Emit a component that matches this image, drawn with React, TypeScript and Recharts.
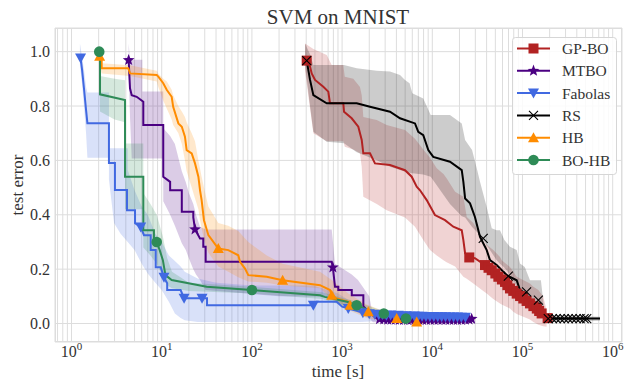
import React from 'react';
import { ComposedChart, Line, Area, XAxis, YAxis, CartesianGrid } from 'recharts';

// GP-BO
const gpboTime = [405, 441, 460, 501, 619, 703, 734, 1031, 1050, 1277, 1512, 1650, 1718, 2038, 2315, 3397, 4980, 5910, 6714, 7310, 8670, 10700, 13830, 17100, 21200, 22100, 23100, 25700, 29700, 38400, 45600, 54000, 64000, 72600, 86200, 102000, 121000, 144000, 163000, 177000, 211000];
const gpboMean = [0.967, 0.945, 0.92, 0.896, 0.871, 0.853, 0.81, 0.81, 0.779, 0.755, 0.724, 0.675, 0.626, 0.626, 0.589, 0.583, 0.564, 0.54, 0.503, 0.49, 0.454, 0.399, 0.38, 0.356, 0.343, 0.307, 0.258, 0.243, 0.24, 0.215, 0.196, 0.172, 0.153, 0.129, 0.11, 0.092, 0.074, 0.055, 0.037, 0.024, 0.02];
const gpboBandTime = [388, 480, 675, 767, 1031, 1070, 1330, 1578, 1650, 1718, 2420, 3120, 4980, 6430, 7940, 9430, 11200, 13300, 14400, 17900, 22100, 24100, 28500, 36700, 40100, 47400, 56300, 58800, 72600, 79100, 86200, 121000, 132000, 150000, 170000, 185000];
const gpboLow = [0.93, 0.7, 0.67, 0.67, 0.67, 0.65, 0.64, 0.626, 0.577, 0.466, 0.44, 0.417, 0.39, 0.356, 0.307, 0.27, 0.25, 0.233, 0.225, 0.21, 0.172, 0.165, 0.147, 0.12, 0.11, 0.09, 0.074, 0.07, 0.055, 0.043, 0.035, 0.015, 0.006, -0.005, -0.01, -0.012];
const gpboHigh = [1.03, 1.01, 0.988, 0.951, 0.951, 0.908, 0.9, 0.87, 0.84, 0.76, 0.749, 0.73, 0.712, 0.68, 0.64, 0.61, 0.571, 0.55, 0.534, 0.485, 0.466, 0.392, 0.37, 0.307, 0.29, 0.27, 0.245, 0.233, 0.208, 0.19, 0.172, 0.147, 0.135, 0.123, 0.098, 0.05];
const gpboMarkT = [405, 25700, 38400, 42000, 45600, 50000, 54000, 59000, 64000, 68000, 72600, 79000, 86200, 94000, 102000, 111000, 121000, 132000, 144000, 153000, 163000, 190000];
const gpboMarkY = [0.967, 0.243, 0.215, 0.205, 0.196, 0.184, 0.172, 0.162, 0.153, 0.141, 0.129, 0.12, 0.11, 0.101, 0.092, 0.083, 0.074, 0.064, 0.055, 0.046, 0.037, 0.02];

// MTBO
const mtboTime = [4.3, 4.45, 4.65, 5.28, 6.25, 6.25, 10.4, 10.4, 12.4, 12.4, 16.7, 16.7, 22.4, 22.4, 23.4, 26.6, 28.9, 28.9, 30.7, 30.7, 767, 790, 834, 907, 907, 1280, 1280, 1720, 1720, 2000, 2300, 3000, 27000];
const mtboMean = [0.969, 0.865, 0.84, 0.834, 0.816, 0.73, 0.73, 0.54, 0.521, 0.49, 0.49, 0.411, 0.411, 0.39, 0.346, 0.313, 0.313, 0.282, 0.282, 0.227, 0.227, 0.206, 0.135, 0.135, 0.123, 0.123, 0.104, 0.104, 0.064, 0.04, 0.025, 0.014, 0.014];
const mtboBandTime = [4.3, 4.45, 4.65, 6.1, 6.1, 10.4, 10.4, 12.4, 14, 16.7, 18.5, 20, 22.4, 24, 26.6, 30.7, 200, 767, 834, 1280, 1500, 2000, 2200, 27000];
const mtboLow = [0.92, 0.76, 0.607, 0.607, 0.607, 0.607, 0.45, 0.4, 0.36, 0.295, 0.27, 0.24, 0.2, 0.18, 0.16, 0.123, 0.1, 0.098, 0.08, 0.06, 0.04, 0.02, 0.005, 0.008];
const mtboHigh = [1.03, 0.97, 0.97, 0.97, 0.853, 0.853, 0.718, 0.69, 0.66, 0.56, 0.52, 0.48, 0.44, 0.4, 0.356, 0.346, 0.346, 0.346, 0.22, 0.18, 0.16, 0.1, 0.03, 0.02];
const mtboMarkT = [4.3, 23.4, 790, 2600, 2900, 3200, 3500, 3900, 4300, 4800, 5300, 5800, 6400, 7100, 7800, 8600, 9500, 10500, 11600, 12800, 14100, 15600, 17200, 19000, 21000, 23200, 25500, 27300];
const mtboMarkY = [0.969, 0.346, 0.206, 0.016, 0.015, 0.014, 0.014, 0.014, 0.013, 0.013, 0.013, 0.013, 0.013, 0.013, 0.013, 0.013, 0.013, 0.013, 0.013, 0.013, 0.013, 0.013, 0.013, 0.013, 0.013, 0.014, 0.015, 0.017];

// Fabolas
const fabolasTime = [1.26, 1.31, 1.38, 1.45, 1.5, 2.6, 2.6, 3.03, 3.03, 4.12, 4.12, 5.06, 5.06, 5.85, 6.36, 7.55, 7.55, 8.58, 8.58, 9.75, 10.6, 11.5, 11.5, 16.2, 17.7, 31.8, 31.8, 480, 520, 870, 1000, 1170, 1700, 2000, 2300, 5000, 12000, 26000];
const fabolasMean = [0.977, 0.933, 0.859, 0.785, 0.737, 0.737, 0.59, 0.59, 0.491, 0.491, 0.417, 0.417, 0.369, 0.355, 0.325, 0.325, 0.27, 0.27, 0.207, 0.207, 0.17, 0.148, 0.123, 0.123, 0.093, 0.093, 0.067, 0.067, 0.08, 0.08, 0.062, 0.055, 0.04, 0.036, 0.034, 0.029, 0.025, 0.023];
const fabolasBandTime = [1.24, 1.31, 1.38, 1.45, 1.5, 2.6, 2.6, 2.96, 3.5, 4.2, 4.2, 5.0, 6.0, 7.0, 8.5, 10, 12, 14, 16.2, 18, 25, 40, 100, 480, 900, 1600, 3000, 26000];
const fabolasLow = [0.95, 0.88, 0.79, 0.7, 0.61, 0.61, 0.53, 0.37, 0.33, 0.3, 0.3, 0.27, 0.22, 0.184, 0.15, 0.123, 0.08, 0.037, 0.02, 0.012, 0.006, 0.006, 0.006, 0.006, 0.006, 0.006, 0.01, 0.015];
const fabolasHigh = [1.03, 0.98, 0.93, 0.87, 0.85, 0.85, 0.645, 0.645, 0.645, 0.645, 0.565, 0.49, 0.43, 0.4, 0.33, 0.3, 0.25, 0.23, 0.21, 0.19, 0.166, 0.15, 0.14, 0.14, 0.11, 0.06, 0.04, 0.03];
const fabolasMarkT = [1.26, 5.85, 10.6, 17.7, 28, 480, 1170, 1700, 2000, 2300, 2550, 2800, 3100, 3450, 3800, 4200, 4650, 5150, 5700, 6300, 7000, 7700, 8500, 9400, 10400, 11500, 12700, 14000, 15500, 17200, 19000, 21000, 23300];
const fabolasMarkY = [0.977, 0.355, 0.17, 0.093, 0.093, 0.067, 0.055, 0.04, 0.036, 0.034, 0.032, 0.033, 0.03, 0.031, 0.029, 0.03, 0.028, 0.029, 0.027, 0.028, 0.027, 0.027, 0.026, 0.026, 0.026, 0.025, 0.025, 0.025, 0.024, 0.024, 0.024, 0.023, 0.023];

// RS
const rsTime = [405, 441, 480, 675, 1452, 2038, 3397, 4385, 6430, 6990, 7940, 9030, 10250, 15700, 21200, 22100, 23100, 26200, 29700, 33800, 36700, 40100, 43600, 51700, 66800, 86200, 93800, 111000, 121000, 156000, 170000, 185000, 723000];
const rsMean = [0.967, 0.896, 0.84, 0.81, 0.81, 0.797, 0.779, 0.755, 0.736, 0.705, 0.693, 0.638, 0.613, 0.595, 0.564, 0.521, 0.46, 0.442, 0.392, 0.319, 0.295, 0.27, 0.233, 0.215, 0.178, 0.159, 0.123, 0.11, 0.074, 0.074, 0.024, 0.018, 0.018];
const rsBandTime = [388, 441, 480, 675, 1050, 1452, 2420, 3397, 4385, 4980, 5600, 6000, 7940, 9600, 15700, 21200, 23100, 27600, 31700, 33800, 40100, 45600, 51700, 56300, 63000, 72600, 86200, 93800, 106000, 121000, 160000, 177000, 723000];
const rsLow = [0.95, 0.8, 0.705, 0.669, 0.663, 0.63, 0.601, 0.577, 0.565, 0.558, 0.555, 0.553, 0.548, 0.54, 0.44, 0.395, 0.39, 0.355, 0.335, 0.325, 0.288, 0.26, 0.233, 0.22, 0.205, 0.18, 0.135, 0.125, 0.11, 0.098, 0.061, 0.005, 0.01];
const rsHigh = [1.03, 0.99, 0.951, 0.951, 0.951, 0.939, 0.93, 0.927, 0.914, 0.896, 0.884, 0.847, 0.828, 0.767, 0.767, 0.736, 0.675, 0.638, 0.56, 0.521, 0.429, 0.35, 0.343, 0.343, 0.307, 0.282, 0.27, 0.221, 0.208, 0.159, 0.159, 0.03, 0.025];
const rsMarkT = [405, 36700, 69600, 111000, 150000, 193000, 214000, 236000, 262000, 290000, 321000, 355000, 393000, 435000, 482000, 515000];
const rsMarkY = [0.967, 0.313, 0.174, 0.116, 0.086, 0.018, 0.018, 0.018, 0.018, 0.018, 0.018, 0.018, 0.018, 0.018, 0.018, 0.018];

// HB
const hbTime = [2.05, 2.16, 2.16, 4.26, 4.45, 8.8, 9.17, 10.4, 11.4, 12.9, 13.4, 15.3, 16.7, 18.1, 18.9, 21.5, 23.4, 25.5, 26.6, 27.7, 29.4, 32.9, 42.4, 54.7, 70.6, 73.8, 83.8, 91.2, 146, 219, 569, 734, 767, 871, 1172, 1225, 1874, 4030, 6710, 7890];
const hbMean = [0.983, 0.977, 0.939, 0.939, 0.92, 0.914, 0.908, 0.884, 0.859, 0.834, 0.797, 0.736, 0.724, 0.687, 0.638, 0.626, 0.589, 0.54, 0.49, 0.454, 0.38, 0.325, 0.276, 0.27, 0.251, 0.227, 0.202, 0.178, 0.172, 0.159, 0.141, 0.123, 0.104, 0.092, 0.08, 0.067, 0.043, 0.018, 0.006, 0.005];
const hbBandTime = [2.05, 2.16, 4.45, 8.8, 9.17, 10.4, 11.4, 12.9, 13.4, 15.3, 16.7, 18.1, 18.9, 21.5, 23.4, 25.5, 26.6, 27.7, 29.4, 32.9, 42.4, 54.7, 70.6, 91.2, 146, 219, 569, 767, 1172, 1874, 3860, 7890];
const hbLow = [0.95, 0.92, 0.91, 0.89, 0.87, 0.82, 0.79, 0.75, 0.73, 0.7, 0.66, 0.6, 0.56, 0.5, 0.46, 0.42, 0.38, 0.35, 0.31, 0.26, 0.21, 0.19, 0.17, 0.155, 0.15, 0.14, 0.13, 0.09, 0.05, 0.02, 0.005, 0.0];
const hbHigh = [1.0, 0.957, 0.95, 0.93, 0.92, 0.9, 0.89, 0.86, 0.84, 0.8, 0.78, 0.76, 0.74, 0.7, 0.67, 0.6, 0.57, 0.54, 0.5, 0.43, 0.37, 0.36, 0.34, 0.3, 0.25, 0.22, 0.19, 0.16, 0.11, 0.07, 0.03, 0.015];
const hbMarkT = [2.05, 42.4, 219, 767, 1225, 1950, 4030, 6710];
const hbMarkY = [0.983, 0.276, 0.159, 0.104, 0.067, 0.043, 0.018, 0.006];

// BO-HB
const bohbTime = [2.03, 2.07, 2.07, 3.92, 3.92, 6.25, 6.25, 8.2, 8.2, 8.8, 9.5, 10.3, 11, 12.9, 31.5, 100, 569, 640, 1130, 1450, 2200, 2900, 5100, 7300];
const bohbMean = [1.0, 1.0, 0.843, 0.822, 0.54, 0.54, 0.343, 0.343, 0.31, 0.3, 0.27, 0.233, 0.178, 0.16, 0.135, 0.123, 0.104, 0.098, 0.08, 0.067, 0.043, 0.037, 0.018, 0.012];
const bohbBandTime = [2.03, 2.07, 3.0, 3.92, 3.92, 6.25, 6.25, 7.5, 8.8, 10.3, 11.5, 13, 20, 100, 600, 1450, 2900, 7300];
const bohbLow = [0.99, 0.78, 0.75, 0.74, 0.42, 0.42, 0.28, 0.25, 0.22, 0.17, 0.14, 0.13, 0.12, 0.11, 0.09, 0.05, 0.025, 0.008];
const bohbHigh = [1.01, 0.91, 0.9, 0.895, 0.662, 0.662, 0.48, 0.44, 0.4, 0.32, 0.24, 0.19, 0.15, 0.135, 0.115, 0.08, 0.045, 0.018];
const bohbMarkT = [2.03, 8.8, 100, 1450, 2900, 5100];
const bohbMarkY = [1.0, 0.3, 0.123, 0.067, 0.037, 0.018];

// axes
const decades = [1, 10, 100, 1000, 10000, 100000];
const minorSteps = [1, 2, 3, 4, 5, 6, 7, 8, 9];
const xGridTicks = [0.7, 0.8, 0.9, ...decades.flatMap((d) => minorSteps.map((m) => m * d)), 1000000];
const majorExponents: Record<number, number> = { 1: 0, 10: 1, 100: 2, 1000: 3, 10000: 4, 100000: 5, 1000000: 6 };
const yTicks = [0, 0.2, 0.4, 0.6, 0.8, 1.0];
const xDomain = [0.656, 1268000];
const yDomain = [-0.068, 1.087];

const FONT = "'Liberation Serif', 'Times New Roman', serif";
const TEXT = '#333333';

const zip = (t: number[], y: number[]) => t.map((x, i) => ({ t: x, y: y[i] }));
const zipBand = (t: number[], lo: number[], hi: number[]) => t.map((x, i) => ({ t: x, band: [lo[i], hi[i]] }));

const series = [
  { name: 'GP-BO', color: '#b22222', marker: 'square', line: zip(gpboTime, gpboMean), band: zipBand(gpboBandTime, gpboLow, gpboHigh), marks: zip(gpboMarkT, gpboMarkY) },
  { name: 'MTBO', color: '#4b0082', marker: 'star', line: zip(mtboTime, mtboMean), band: zipBand(mtboBandTime, mtboLow, mtboHigh), marks: zip(mtboMarkT, mtboMarkY) },
  { name: 'Fabolas', color: '#4169e1', marker: 'triDown', line: zip(fabolasTime, fabolasMean), band: zipBand(fabolasBandTime, fabolasLow, fabolasHigh), marks: zip(fabolasMarkT, fabolasMarkY) },
  { name: 'RS', color: '#000000', marker: 'x', line: zip(rsTime, rsMean), band: zipBand(rsBandTime, rsLow, rsHigh), marks: zip(rsMarkT, rsMarkY) },
  { name: 'HB', color: '#ff8c00', marker: 'triUp', line: zip(hbTime, hbMean), band: zipBand(hbBandTime, hbLow, hbHigh), marks: zip(hbMarkT, hbMarkY) },
  { name: 'BO-HB', color: '#2e8b57', marker: 'circle', line: zip(bohbTime, bohbMean), band: zipBand(bohbBandTime, bohbLow, bohbHigh), marks: zip(bohbMarkT, bohbMarkY) },
];

const starPoints = (cx: number, cy: number, ro: number, ri: number) => {
  const pts: string[] = [];
  for (let i = 0; i < 10; i++) {
    const r = i % 2 === 0 ? ro : ri;
    const a = -Math.PI / 2 + (i * Math.PI) / 5;
    pts.push(`${cx + r * Math.cos(a)},${cy + r * Math.sin(a)}`);
  }
  return pts.join(' ');
};

const MarkerShape = ({ kind, color, cx, cy }: { kind: string; color: string; cx: number; cy: number }) => {
  if (cx == null || cy == null || isNaN(cx) || isNaN(cy)) return <g />;
  switch (kind) {
    case 'square':
      return <rect x={cx - 5} y={cy - 5} width={10} height={10} fill={color} />;
    case 'star':
      return <polygon points={starPoints(cx, cy, 6.2, 2.6)} fill={color} />;
    case 'triDown':
      return <polygon points={`${cx - 5.5},${cy - 4.5} ${cx + 5.5},${cy - 4.5} ${cx},${cy + 5.5}`} fill={color} />;
    case 'triUp':
      return <polygon points={`${cx - 5.5},${cy + 4.5} ${cx + 5.5},${cy + 4.5} ${cx},${cy - 5.5}`} fill={color} />;
    case 'x':
      return (
        <path
          d={`M${cx - 4.5},${cy - 4.5}L${cx + 4.5},${cy + 4.5}M${cx - 4.5},${cy + 4.5}L${cx + 4.5},${cy - 4.5}`}
          stroke={color}
          strokeWidth={1.1}
          fill="none"
        />
      );
    default:
      return <circle cx={cx} cy={cy} r={5.3} fill={color} />;
  }
};

const LogTick = (props: any) => {
  const { x, y, payload } = props;
  const exp = majorExponents[payload.value];
  if (exp === undefined) return <g />;
  return (
    <text x={x} y={y + 15} textAnchor="middle" fontFamily={FONT} fontSize={16} fill={TEXT}>
      10
      <tspan dy={-7} fontSize={11}>
        {exp}
      </tspan>
    </text>
  );
};

const Legend = () => (
  <g>
    <rect x={512.5} y={37.5} width={104} height={137} rx={3} fill="#ffffff" fillOpacity={0.85} stroke="#d6d6d6" />
    {series.map((s, i) => {
      const cy = 48.5 + i * 22.3;
      return (
        <g key={s.name}>
          <line x1={517} x2={550} y1={cy} y2={cy} stroke={s.color} strokeWidth={2} />
          <MarkerShape kind={s.marker} color={s.color} cx={533.5} cy={cy} />
          <text x={562} y={cy + 5.5} fontFamily={FONT} fontSize={15.5} fill={TEXT}>
            {s.name}
          </text>
        </g>
      );
    })}
  </g>
);

export default function App() {
  return (
    <div style={{ position: 'absolute', left: 0, top: 0, width: 626, height: 384, background: '#fff' }}>
      <ComposedChart width={626} height={384} margin={{ top: 28, right: 4, bottom: 0, left: 0 }}>
        <CartesianGrid stroke="#dddddd" />
        <XAxis
          dataKey="t"
          type="number"
          scale="log"
          domain={xDomain}
          allowDataOverflow
          ticks={xGridTicks}
          interval={0}
          tick={<LogTick />}
          tickLine={false}
          axisLine={false}
          tickSize={0}
          tickMargin={0}
          height={42}
        />
        <YAxis
          type="number"
          domain={yDomain}
          allowDataOverflow
          ticks={yTicks}
          tickFormatter={(v: number) => v.toFixed(1)}
          tick={{ fill: TEXT, fontSize: 16, fontFamily: FONT }}
          tickLine={false}
          axisLine={false}
          tickSize={0}
          tickMargin={5}
          width={55}
        />
        {series.map((s) => (
          <Area
            key={s.name + '-band'}
            data={s.band}
            dataKey="band"
            type="linear"
            stroke="none"
            fill={s.color}
            fillOpacity={0.2}
            dot={false}
            activeDot={false}
            isAnimationActive={false}
          />
        ))}
        {series.map((s) => (
          <Line
            key={s.name + '-line'}
            data={s.line}
            dataKey="y"
            type="linear"
            stroke={s.color}
            strokeWidth={2}
            dot={false}
            activeDot={false}
            isAnimationActive={false}
          />
        ))}
        {series.map((s) => (
          <Line
            key={s.name + '-marks'}
            data={s.marks}
            dataKey="y"
            stroke="none"
            dot={(p: any) => <MarkerShape key={s.name + p.index} kind={s.marker} color={s.color} cx={p.cx} cy={p.cy} />}
            activeDot={false}
            isAnimationActive={false}
          />
        ))}
      </ComposedChart>
      <svg width={626} height={384} style={{ position: 'absolute', left: 0, top: 0, pointerEvents: 'none' }}>
        <rect x={55.5} y={28.5} width={566} height={313} fill="none" stroke="#dddddd" />
        <text x={338} y={24} textAnchor="middle" fontFamily={FONT} fontSize={21} fill={TEXT}>
          SVM on MNIST
        </text>
        <text x={338} y={377} textAnchor="middle" fontFamily={FONT} fontSize={17} fill={TEXT}>
          time [s]
        </text>
        <text
          x={0}
          y={0}
          transform="translate(23,185) rotate(-90)"
          textAnchor="middle"
          fontFamily={FONT}
          fontSize={17}
          fill={TEXT}
        >
          test error
        </text>
        <Legend />
      </svg>
    </div>
  );
}
